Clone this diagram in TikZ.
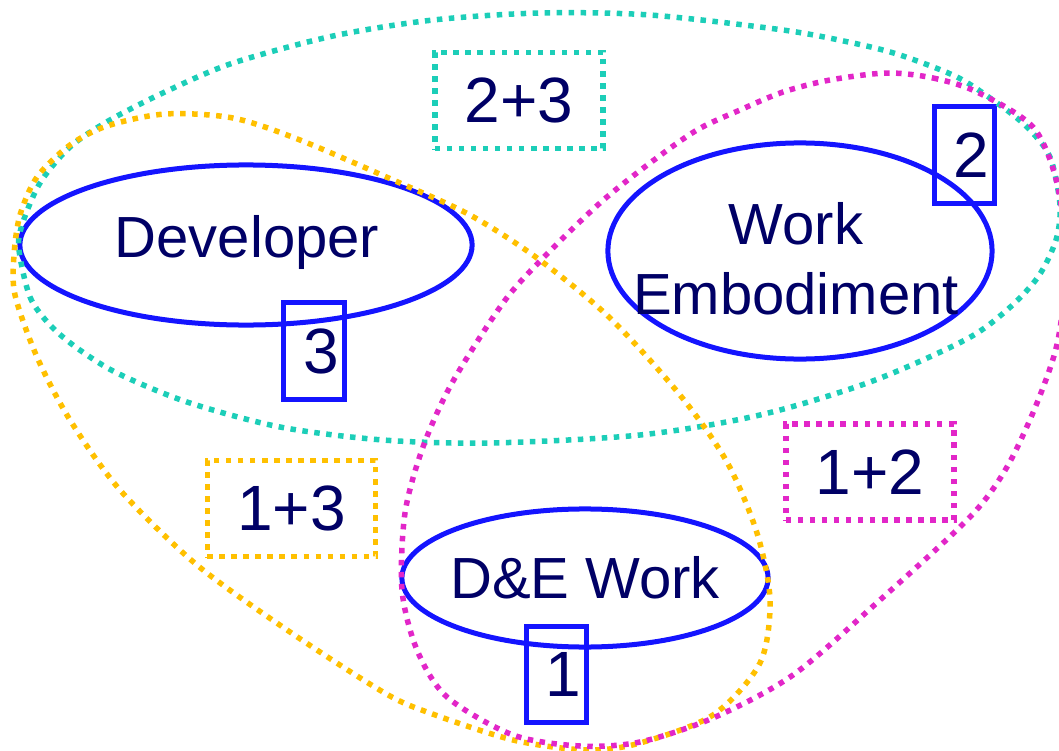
\documentclass[tikz,border=0pt]{standalone}
\usepackage{fontspec}
\setmainfont{Liberation Sans}
\usetikzlibrary{shapes.geometric}
\definecolor{tealdot}{RGB}{28,206,184}
\definecolor{golddot}{RGB}{255,192,0}
\definecolor{pinkdot}{RGB}{226,38,200}
\definecolor{ringblue}{RGB}{20,20,255}
\definecolor{inkblue}{RGB}{0,0,102}
\tikzset{
	bluering/.style	= {ellipse, draw = ringblue, line width = 0.05cm, inner sep = 0pt},
	numbox/.style	= {rectangle, draw = ringblue, line width = 0.05cm, minimum height = 0.96cm,
			   text width = 0.5cm, inner xsep = 0.05cm, inner ysep = 0pt, align = right,
			   text = inkblue, font = \fontsize{18.2}{22}\selectfont},
	pairbox/.style	= {rectangle, line width = 0.055cm, dash pattern = on 0.055cm off 0.065cm,
			   minimum width = 1.68cm, minimum height = 0.96cm,
			   text = inkblue, font = \fontsize{18.2}{22}\selectfont},
	areatext/.style	= {text = inkblue, align = center, inner sep = 0pt, font = \fontsize{16.5}{20}\selectfont},
	dotring/.style	= {line width = 0.055cm, dash pattern = on 0.055cm off 0.065cm},
}
\begin{document}
\begin{tikzpicture}[x=0.01cm, y=-0.01cm]
	\useasboundingbox (0,0) rectangle (1059,751);
	\clip (0,0) rectangle (1059,751);
	\node (dev)  at (246, 245)	[bluering, minimum width = 4.52cm, minimum height = 1.60cm]	{};
	\node (work) at (800, 251)	[bluering, minimum width = 3.84cm, minimum height = 2.16cm]	{};
	\node (de)   at (585, 578)	[bluering, minimum width = 3.66cm, minimum height = 1.38cm]	{};
	\node (three) at (314, 351)	[numbox]	{3};
	\node (two)   at (964.5, 155)	[numbox]	{2};
	\node (one)   at (556.5, 674.5)	[numbox]	{1};
	\draw [dotring, tealdot] plot [smooth cycle] coordinates {
		(19,250) (30,297) (50,325) (77,348) (117,373) (187,402) (280,427) (383,440)
		(490,443) (640,435) (760,415) (870,382) (965,340) (1007,310) (1038,277)
		(1056,240) (1060,205) (1050,157) (1027,127) (997,103) (957,77) (900,55)
		(853,43) (783,30) (650,15) (540,13) (433,20) (333,36) (233,63) (167,91)
		(110,120) (70,147) (40,183) (22,225)};
	\draw [dotring, golddot] plot [smooth cycle] coordinates {
		(14,255) (20,215) (37,177) (70,145) (107,126) (165,114) (233,118) (300,140)
		(400,183) (470,215) (537,258) (610,318) (680,395) (727,462) (757,533)
		(770,600) (760,663) (713,715) (640,743) (587,750) (513,740) (427,712)
		(383,692) (290,632) (197,565) (120,490) (70,420) (37,357) (15,295)};
	\draw [dotring, pinkdot] plot [smooth cycle] coordinates {
		(887,73) (933,78) (977,92) (1033,127) (1057,183) (1066,260) (1058,340)
		(1037,403) (1007,467) (970,517) (880,600) (793,675) (713,718) (640,742)
		(580,746) (513,735) (447,697) (417,650) (402,590) (405,513) (423,447)
		(452,383) (503,303) (543,258) (600,203) (650,163) (697,130) (740,110)
		(783,92) (830,80)};
	\node (twothree) at (519, 100.5)	[pairbox, draw = tealdot]	{2+3};
	\node (onethree) at (291.5, 508.5)	[pairbox, draw = golddot]	{1+3};
	\node (onetwo)   at (870, 472)	[pairbox, draw = pinkdot]	{1+2};
	\node (devtext)  at (247, 242)	[areatext]	{Developer};
	\node (worktext) at (796, 259)	[areatext]	{Work\\Embodiment};
	\node (detext)   at (585, 578)	[areatext]	{D\&E Work};
\end{tikzpicture}
\end{document}
